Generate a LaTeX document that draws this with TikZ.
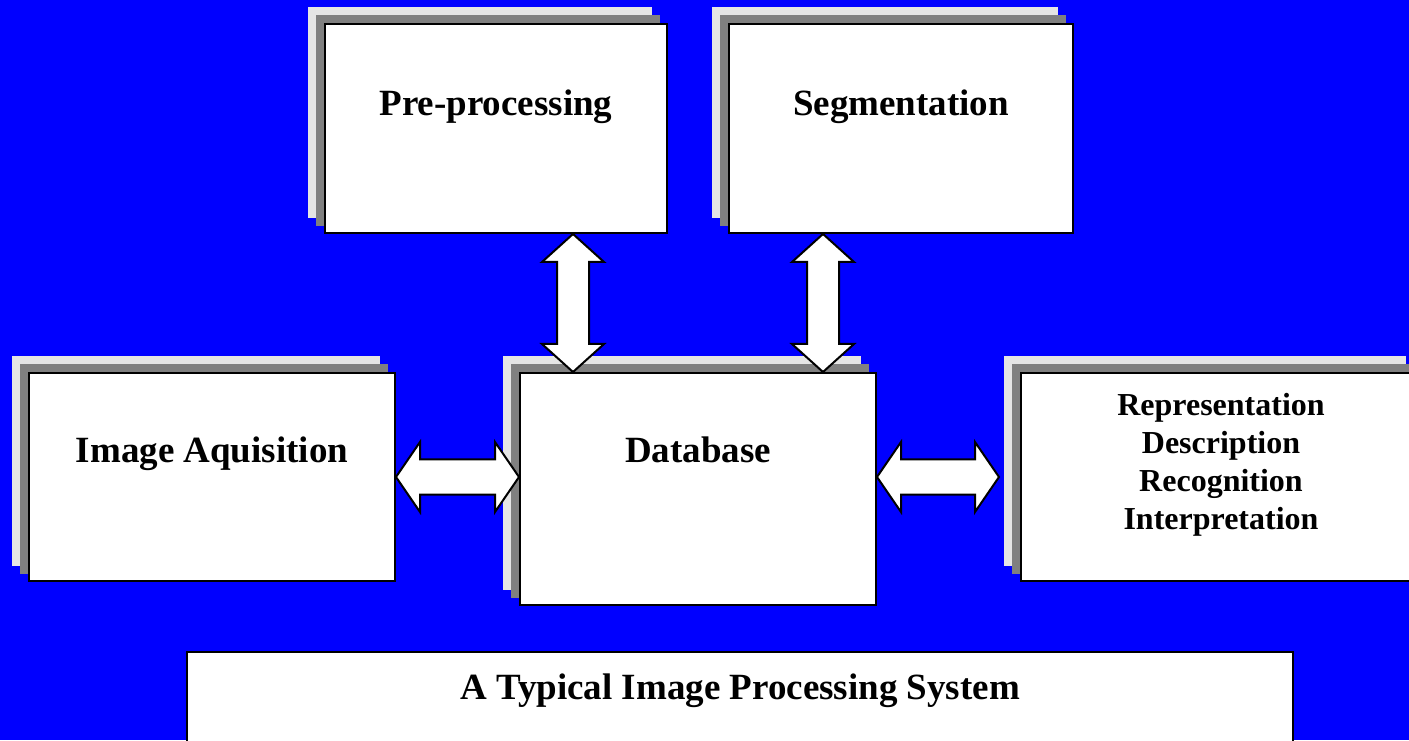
\documentclass[tikz,border=0pt]{standalone}
\usepackage{fontspec}
\setmainfont{Liberation Serif}
\usetikzlibrary{calc}
\pgfdeclarelayer{shadowlayer}
\pgfsetlayers{shadowlayer,main}
\definecolor{bgblue}{RGB}{0,0,255}
\definecolor{shadowdark}{RGB}{128,128,128}
\definecolor{shadowlight}{RGB}{229,229,229}
\tikzset{
  stackbox/.style={draw=black, fill=white, line width=2pt, inner sep=0pt, rectangle},
  lbl/.style={anchor=base, inner sep=0pt, font=\bfseries\fontsize{37}{44}\selectfont},
  lblsmall/.style={anchor=north, inner sep=0pt, align=center, font=\bfseries\fontsize{32}{38}\selectfont},
  blockv/.style={draw=black, fill=white, line width=2pt, line join=miter,
    to path={let \p1=(\tikztostart), \p2=(\tikztotarget) in
      (\x1,\y1) -- (\x1+31pt,\y1-28pt) -- (\x1+16pt,\y1-28pt) -- (\x1+16pt,\y2+28pt)
      -- (\x1+31pt,\y2+28pt) -- (\x2,\y2) -- (\x1-31pt,\y2+28pt) -- (\x1-16pt,\y2+28pt)
      -- (\x1-16pt,\y1-28pt) -- (\x1-31pt,\y1-28pt) -- cycle}},
  blockh/.style={draw=black, fill=white, line width=2pt, line join=miter,
    to path={let \p1=(\tikztostart), \p2=(\tikztotarget) in
      (\x1,\y1) -- (\x1+24pt,\y1+35pt) -- (\x1+24pt,\y1+17.5pt) -- (\x2-24pt,\y1+17.5pt)
      -- (\x2-24pt,\y1+35pt) -- (\x2,\y2) -- (\x2-24pt,\y1-35pt) -- (\x2-24pt,\y1-17.5pt)
      -- (\x1+24pt,\y1-17.5pt) -- (\x1+24pt,\y1-35pt) -- cycle}}
}
\newcommand{\mystack}[1]{%
  \fill[shadowlight] ([shift={(-16,16)}]#1.south west) rectangle ([shift={(-16,16)}]#1.north east);
  \fill[shadowdark] ([shift={(-8,8)}]#1.south west) rectangle ([shift={(-8,8)}]#1.north east);
}
\begin{document}
\begin{tikzpicture}[x=1pt,y=1pt]
\useasboundingbox (0,0) rectangle (1409,740);
\clip (0,0) rectangle (1409,740);

% boxes
\node[stackbox, minimum width=342, minimum height=209] (pre) at (496,611.5) {};
\node[stackbox, minimum width=344, minimum height=209] (seg) at (901,611.5) {};
\node[stackbox, minimum width=356, minimum height=232] (db) at (698,251) {};
\node[stackbox, minimum width=366, minimum height=208] (ia) at (212,263) {};
\node[stackbox, minimum width=400, minimum height=208] (rep) at (1221,263) {};
\node[stackbox, minimum width=1106, minimum height=108] (title) at (740,34) {};

\begin{pgfonlayer}{shadowlayer}
  \fill[bgblue] (0,0) rectangle (1409,740);
  \mystack{pre}
  \mystack{seg}
  \mystack{db}
  \mystack{ia}
  \mystack{rep}
\end{pgfonlayer}

% labels
\node[lbl] (preT) at ($(pre.north)+(0,-93)$) {Pre-processing};
\node[lbl] (segT) at ($(seg.north)+(0,-93)$) {Segmentation};
\node[lbl] (dbT) at ($(db.north)+(0,-91)$) {Database};
\node[lbl] (iaT) at ($(ia.north)+(0,-91)$) {Image Aquisition};
\node[lblsmall] (repT) at ($(rep.north)+(0,-21)$) {Representation\\Description\\Recognition\\Interpretation};
\node[lbl] (titleT) at ($(title.north)+(0,-48)$) {A Typical Image Processing System};

% connectors
\coordinate (v1t) at (573,0 |- pre.south);
\coordinate (v1b) at (573,0 |- db.north);
\coordinate (v2t) at (823,0 |- seg.south);
\coordinate (v2b) at (823,0 |- db.north);
\coordinate (h1l) at (ia.east);
\coordinate (h1r) at (db.west |- ia.east);
\coordinate (h2l) at (db.east |- rep.west);
\coordinate (h2r) at ($(rep.west)+(-21,0)$);

\draw[blockv] (v1t) to (v1b);
\draw[blockv] (v2t) to (v2b);
\draw[blockh] (h1l) to (h1r);
\draw[blockh] (h2l) to (h2r);
\end{tikzpicture}
\end{document}
